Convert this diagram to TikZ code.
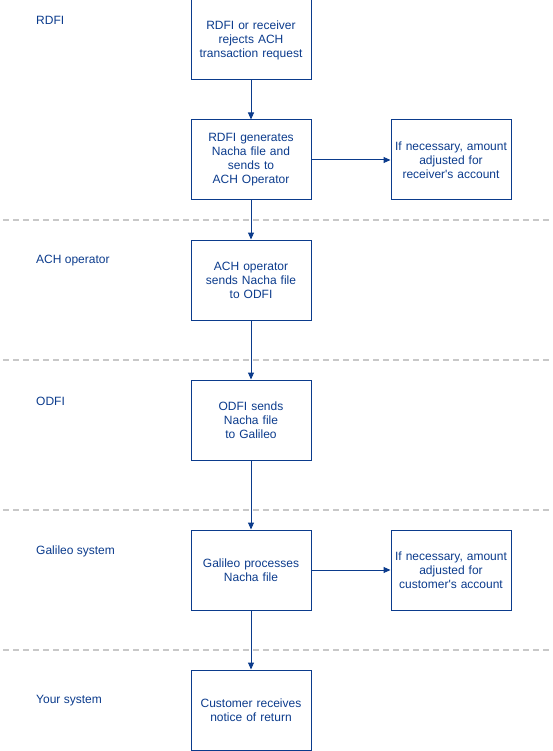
\documentclass[tikz,border=0pt]{standalone}
\usepackage{fontspec}
\setmainfont{Liberation Sans}
\usetikzlibrary{arrows.meta}
\definecolor{ink}{HTML}{0B3B8C}
\definecolor{dashgrey}{HTML}{C8C8C8}
\begin{document}
\begin{tikzpicture}[x=1pt,y=-1pt,
  stepbox/.style={draw=ink,line width=1pt,minimum width=120pt,minimum height=80pt,inner sep=0pt,
    text=ink,font=\fontsize{12}{14}\selectfont,align=center,text width=116pt},
  lane/.style={text=ink,font=\fontsize{12}{14}\selectfont,anchor=west,inner sep=0pt},
  sep/.style={draw=dashgrey,line width=2pt,dash pattern=on 6pt off 4pt},
  flow/.style={draw=ink,line width=1pt,-{Triangle[length=7pt,width=6pt]}}]
\useasboundingbox (0,0) rectangle (553,751);
\node[stepbox] (b1) at (251,40) {RDFI or receiver\\rejects ACH\\transaction request};
\node[stepbox] (b2) at (251,160) {RDFI generates\\Nacha file and\\sends to\\ACH Operator};
\node[stepbox] (s1) at (451,160) {If necessary, amount\\adjusted for\\receiver\textquotesingle s account};
\node[stepbox] (b3) at (251,280) {ACH operator\\sends Nacha file\\to ODFI};
\node[stepbox] (b4) at (251,420) {ODFI sends\\Nacha file\\to Galileo};
\node[stepbox] (b5) at (251,570) {Galileo processes\\Nacha file};
\node[stepbox] (s2) at (451,570) {If necessary, amount\\adjusted for\\customer\textquotesingle s account};
\node[stepbox] (b6) at (251,710) {Customer receives\\notice of return};
\node[lane] (l1) at (36,20) {RDFI};
\node[lane] (l2) at (36,261) {ACH operator};
\node[lane] (l3) at (36,401) {ODFI};
\node[lane] (l4) at (36,551) {Galileo system};
\node[lane] (l5) at (36,701) {Your system};
\coordinate (d1a) at (3,220); \coordinate (d1b) at (553,220);
\coordinate (d2a) at (3,360); \coordinate (d2b) at (553,360);
\coordinate (d3a) at (3,510); \coordinate (d3b) at (553,510);
\coordinate (d4a) at (3,650); \coordinate (d4b) at (553,650);
\draw[sep] (d1a) -- (d1b);
\draw[sep] (d2a) -- (d2b);
\draw[sep] (d3a) -- (d3b);
\draw[sep] (d4a) -- (d4b);
\draw[flow] (b1) -- (b2);
\draw[flow] (b2) -- (s1);
\draw[flow] (b2) -- (b3);
\draw[flow] (b3) -- (b4);
\draw[flow] (b4) -- (b5);
\draw[flow] (b5) -- (s2);
\draw[flow] (b5) -- (b6);
\end{tikzpicture}
\end{document}
